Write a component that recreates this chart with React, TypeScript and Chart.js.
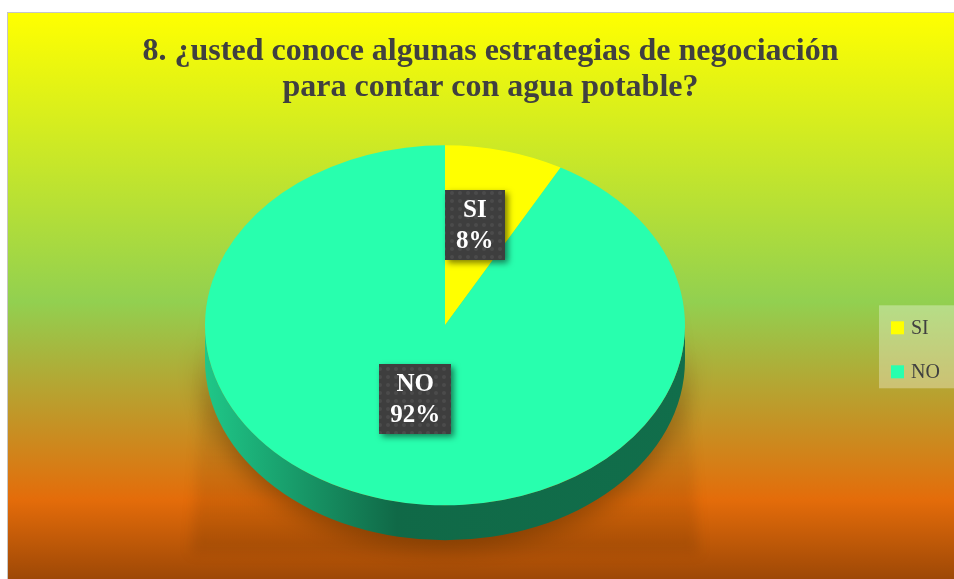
import React, { useEffect, useRef } from 'react';
import { Chart, registerables, layouts } from 'chart.js';

Chart.register(...registerables);

// ---- data ----
const TITLE_LINES = ['8. ¿usted conoce algunas estrategias de negociación', 'para contar con agua potable?'];
const CATEGORIES = ['SI', 'NO'];
const VALUES = [8, 92];
const SLICE_COLORS = ['#FFFF00', '#28FFAE'];

// background gradient (position 0..1 from top, colour)
const BG_POS = [0, 0.51, 0.86, 1];
const BG_COLORS = ['#FFFF00', '#92D050', '#E46C0A', '#9E4806'];

// ---- style constants ----
const TILT = 0.75;
const DEPTH = 35;
const SERIF = "'Liberation Serif', 'Times New Roman', serif";
const TEXT_COLOR = '#404040';
const LEGEND_WIDTH = 91;

function shade(hex: string, f: number) {
  const n = parseInt(hex.slice(1), 16);
  const r = (n >> 16) & 255, g = (n >> 8) & 255, b = n & 255;
  return `rgb(${Math.round(r * f)},${Math.round(g * f)},${Math.round(b * f)})`;
}

const backgroundPlugin = {
  id: 'bgGradient',
  beforeDraw(chart: any) {
    const { ctx, width, height } = chart;
    const g = ctx.createLinearGradient(0, 0, 0, height);
    BG_POS.forEach((p, i) => g.addColorStop(p, BG_COLORS[i]));
    ctx.save();
    ctx.fillStyle = g;
    ctx.fillRect(0, 0, width, height);
    ctx.restore();
  },
};

let labelPattern: CanvasPattern | null = null;
function getPattern(ctx: CanvasRenderingContext2D) {
  if (labelPattern) return labelPattern;
  const c = document.createElement('canvas');
  c.width = 8; c.height = 8;
  const p = c.getContext('2d')!;
  p.fillStyle = '#3e3e3e';
  p.fillRect(0, 0, 8, 8);
  p.fillStyle = 'rgba(255,255,255,0.07)';
  p.beginPath();
  p.arc(4, 4, 2, 0, Math.PI * 2);
  p.fill();
  labelPattern = ctx.createPattern(c, 'repeat');
  return labelPattern;
}

const pie3dPlugin = {
  id: 'pie3d',
  beforeDatasetsDraw(chart: any) {
    const ctx: CanvasRenderingContext2D = chart.ctx;
    const arcs = chart.getDatasetMeta(0).data as any[];
    if (!arcs.length) return;
    const cx = arcs[0].x, cy = arcs[0].y, r = arcs[0].outerRadius;
    const ry = r * TILT;

    // soft floor shadow behind the pie
    ctx.save();
    ctx.filter = 'blur(6px)';
    const fg = ctx.createLinearGradient(0, cy - 30, 0, cy + ry + DEPTH + 13);
    fg.addColorStop(0, 'rgba(70,35,0,0)');
    fg.addColorStop(1, 'rgba(70,35,0,0.16)');
    ctx.fillStyle = fg;
    ctx.beginPath();
    ctx.moveTo(cx - r + 2, cy - 30);
    ctx.lineTo(cx - r - 14, cy + ry + DEPTH + 13);
    ctx.lineTo(cx + r + 14, cy + ry + DEPTH + 13);
    ctx.lineTo(cx + r - 2, cy - 30);
    ctx.closePath();
    ctx.fill();
    ctx.restore();

    // side walls (visible front half)
    const colors = chart.data.datasets[0].backgroundColor as string[];
    arcs.forEach((arc: any, i: number) => {
      const base = colors[i];
      for (const k of [-1, 0, 1]) {
        const lo = Math.max(arc.startAngle, k * 2 * Math.PI);
        const hi = Math.min(arc.endAngle, k * 2 * Math.PI + Math.PI);
        if (hi <= lo) continue;
        ctx.save();
        const sg = ctx.createLinearGradient(cx - r, 0, cx + r, 0);
        sg.addColorStop(0, shade(base, 0.78));
        sg.addColorStop(0.4, shade(base, 0.41));
        sg.addColorStop(1, shade(base, 0.43));
        ctx.fillStyle = sg;
        ctx.shadowColor = 'rgba(80,40,0,0.55)';
        ctx.shadowBlur = 26;
        ctx.shadowOffsetY = 6;
        ctx.beginPath();
        ctx.ellipse(cx, cy, r, ry, 0, lo, hi, false);
        ctx.ellipse(cx, cy + DEPTH, r, ry, 0, hi, lo, true);
        ctx.closePath();
        ctx.fill();
        ctx.restore();
      }
    });

    // tilt the top face
    ctx.save();
    ctx.translate(cx, cy);
    ctx.scale(1, TILT);
    ctx.translate(-cx, -cy);
  },
  afterDatasetsDraw(chart: any) {
    const ctx: CanvasRenderingContext2D = chart.ctx;
    ctx.restore();
    const arcs = chart.getDatasetMeta(0).data as any[];
    const data = chart.data.datasets[0].data as number[];
    const total = data.reduce((a, b) => a + b, 0);
    const labels = chart.data.labels as string[];
    arcs.forEach((arc: any, i: number) => {
      const mid = (arc.startAngle + arc.endAngle) / 2;
      const rad = (arc.innerRadius + arc.outerRadius) / 2;
      const px = arc.x + Math.cos(mid) * rad;
      const py = arc.y + Math.sin(mid) * rad * TILT - 13.5;
      const lines = [labels[i], Math.round((data[i] / total) * 100) + '%'];
      ctx.save();
      ctx.font = `bold 25px ${SERIF}`;
      const tw = Math.max(...lines.map((l) => ctx.measureText(l).width));
      const w = tw + 22, h = 70;
      ctx.shadowColor = 'rgba(0,0,0,0.5)';
      ctx.shadowBlur = 6;
      ctx.shadowOffsetX = 3;
      ctx.shadowOffsetY = 3;
      ctx.fillStyle = getPattern(ctx) || '#404040';
      ctx.fillRect(Math.round(px - w / 2), Math.round(py - h / 2), Math.round(w), h);
      ctx.restore();
      ctx.save();
      ctx.font = `bold 25px ${SERIF}`;
      ctx.fillStyle = '#FFFFFF';
      ctx.textAlign = 'center';
      ctx.textBaseline = 'middle';
      ctx.fillText(lines[0], px, py - 14);
      ctx.fillText(lines[1], px, py + 17);
      ctx.restore();
    });
  },
};

// legend drawn as its own layout box on the right
const boxLegendPlugin = {
  id: 'boxLegend',
  beforeInit(chart: any) {
    const box: any = {
      position: 'right',
      weight: 1000,
      fullSize: false,
      options: {},
      width: 0, height: 0, left: 0, top: 0, right: 0, bottom: 0,
      isHorizontal() { return false; },
      update(maxWidth: number, maxHeight: number) {
        this.width = LEGEND_WIDTH;
        this.height = maxHeight;
      },
      draw() {
        const ctx: CanvasRenderingContext2D = chart.ctx;
        const left = this.left;
        const top = (this.top + this.bottom) / 2 - 20;
        const labels = chart.data.labels as string[];
        const colors = chart.data.datasets[0].backgroundColor as string[];
        ctx.save();
        ctx.fillStyle = 'rgba(255,255,255,0.32)';
        ctx.fillRect(left, top, chart.width - left, 83);
        ctx.font = `20px ${SERIF}`;
        ctx.textBaseline = 'middle';
        ctx.textAlign = 'left';
        labels.forEach((lab, i) => {
          const y = top + 16 + i * 44;
          ctx.fillStyle = colors[i];
          ctx.fillRect(left + 12, y, 13, 13);
          ctx.fillStyle = TEXT_COLOR;
          ctx.fillText(lab, left + 32, y + 7);
        });
        ctx.restore();
      },
    };
    layouts.addBox(chart, box);
  },
};

export default function App() {
  const ref = useRef<HTMLCanvasElement>(null);
  useEffect(() => {
    if (!ref.current) return;
    const chart = new Chart(ref.current, {
      type: 'pie',
      data: {
        labels: CATEGORIES,
        datasets: [
          {
            data: VALUES,
            backgroundColor: SLICE_COLORS,
            borderWidth: 0,
            radius: 240,
            clip: false,
          } as any,
        ],
      },
      options: {
        responsive: false,
        animation: false,
        events: [],
        layout: { padding: { left: 3, right: 0, top: 0, bottom: 35 } },
        plugins: {
          title: {
            display: true,
            text: TITLE_LINES,
            color: TEXT_COLOR,
            font: { family: SERIF, size: 32, weight: 'bold', lineHeight: 1.15 },
            padding: { top: 20, bottom: 0 },
          },
          legend: { display: false },
          tooltip: { enabled: false },
        },
      } as any,
      plugins: [backgroundPlugin, pie3dPlugin, boxLegendPlugin],
    });
    return () => chart.destroy();
  }, []);
  return (
    <div
      style={{
        position: 'absolute',
        left: 7,
        top: 12,
        width: 946,
        height: 566,
        overflow: 'hidden',
        borderTop: '1px solid #c6c6c6',
        borderLeft: '1px solid #c6c6c6',
      }}
    >
      <canvas ref={ref} width={962} height={566} style={{ display: 'block' }} />
    </div>
  );
}
